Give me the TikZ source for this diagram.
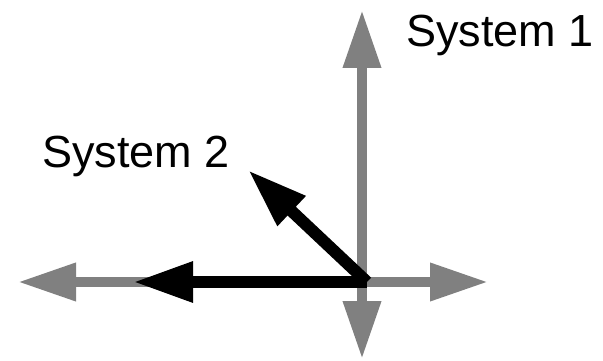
\documentclass[tikz,border=0pt]{standalone}
\usepackage{fontspec}
\setmainfont{Liberation Sans}
\usetikzlibrary{arrows.meta}
\begin{document}
\begin{tikzpicture}[x=1pt,y=-1pt,
  grayaxis/.style={draw={rgb,255:red,128;green,128;blue,128}, line width=10pt,
    arrows={-Triangle[length=58pt,width=36pt]}},
  blackvec/.style={draw=black, line width=12pt,
    arrows={-Triangle[length=60pt,width=38pt]}},
  lbl/.style={anchor=base west, inner sep=0pt, font=\fontsize{45}{50}\selectfont}]
\useasboundingbox (0,0) rectangle (603,361);
\coordinate (O) at (362,282);
\coordinate (Ob) at (367,282);
\coordinate (top) at (362,10);
\coordinate (bottom) at (362,359);
\coordinate (left) at (18,282);
\coordinate (right) at (488,282);
\coordinate (v2x) at (133,282);
\coordinate (v2y) at (248,170);
\draw[grayaxis] (O) -- (top);
\draw[grayaxis] (O) -- (bottom);
\draw[grayaxis] (O) -- (left);
\draw[grayaxis] (O) -- (right);
\draw[blackvec] (Ob) -- (v2x);
\draw[blackvec] (Ob) -- (v2y);
\node[lbl] (s1) at (406,47) {System 1};
\node[lbl] (s2) at (42,167) {System 2};
\end{tikzpicture}
\end{document}
